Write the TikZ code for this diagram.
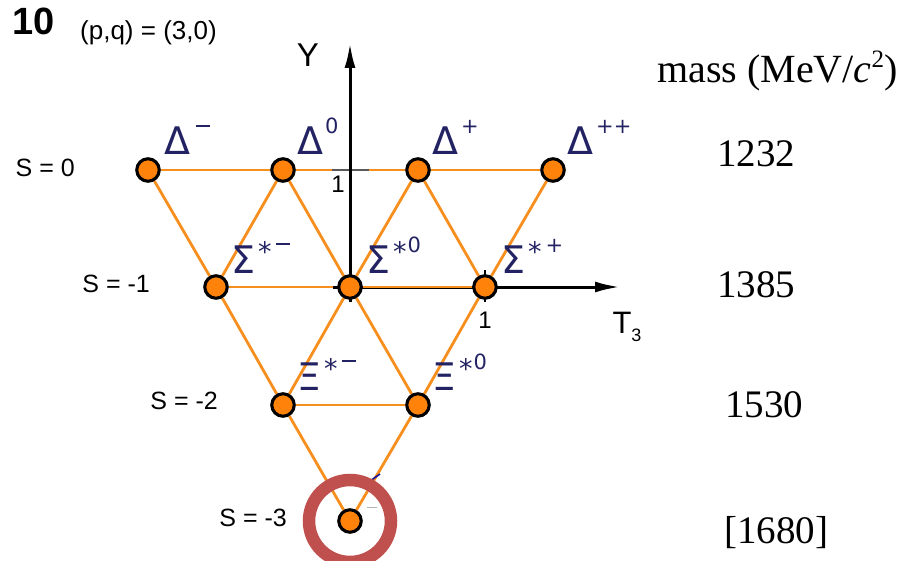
\documentclass[tikz,border=0pt]{standalone}
\usepackage{fontspec}
\newfontfamily\hv{Liberation Sans}
\newfontfamily\gk{DejaVu Sans}
\newfontfamily\tm{Liberation Serif}
\usetikzlibrary{arrows.meta,backgrounds}
\definecolor{org}{RGB}{247,143,30}
\definecolor{nodeor}{RGB}{255,130,10}
\definecolor{lab}{RGB}{35,35,100}
\definecolor{ring}{RGB}{192,80,77}
\newcommand{\ssup}[1]{\raisebox{21pt}{\fontsize{21}{23}\selectfont #1}}
\newcommand{\smin}{\rule[28pt]{14pt}{2.2pt}}
\newcommand{\sast}{\raisebox{12pt}{\fontsize{27}{29}\selectfont *}}
\begin{document}
\begin{tikzpicture}[x=1pt,y=-1pt,
  particle/.style={circle,draw=black,line width=3.1pt,fill=nodeor,minimum size=22.5pt,inner sep=0pt},
  edge/.style={draw=org,line width=2.8pt},
  axisline/.style={line width=3pt,-{Latex[length=25pt,width=11pt]}},
  glab/.style={anchor=base west,text=lab,inner sep=0pt,font=\gk\fontsize{38}{40}\selectfont},
  slab/.style={anchor=mid east,inner sep=0pt,font=\hv\fontsize{25}{28}\selectfont},
  mlab/.style={anchor=base west,inner sep=0pt,font=\tm\fontsize{39}{42}\selectfont},
  tlab/.style={inner sep=0pt,font=\hv\fontsize{24}{26}\selectfont}
]
\useasboundingbox (0,0) rectangle (912,561);
% particles
\node[particle] (dm) at (148,170) {};
\node[particle] (d0) at (283,170) {};
\node[particle] (dp) at (418,170) {};
\node[particle] (dpp) at (553,170) {};
\node[particle] (sm) at (216,287) {};
\node[particle] (s0) at (350,287) {};
\node[particle] (sp) at (485,287) {};
\node[particle] (xm) at (283,405) {};
\node[particle] (x0) at (418,405) {};
\node[particle] (om) at (350,521) {};
% axis coordinates
\coordinate (yb) at (350,302);
\coordinate (yt) at (350,43);
\coordinate (tl) at (333,287);
\coordinate (tr) at (620,287);
\coordinate (ytl) at (332,170);
\coordinate (ytr) at (369,170);
\coordinate (ttt) at (485,270);
\coordinate (ttb) at (485,302);
\begin{pgfonlayer}{background}
\draw[edge] (dm) -- (d0) -- (dp) -- (dpp);
\draw[edge] (sm) -- (s0) -- (sp);
\draw[edge] (xm) -- (x0);
\draw[edge] (dm) -- (sm) -- (xm) -- (om);
\draw[edge] (dpp) -- (sp) -- (x0) -- (om);
\draw[edge] (d0) -- (sm);
\draw[edge] (d0) -- (s0) -- (x0);
\draw[edge] (dp) -- (s0) -- (xm);
\draw[edge] (dp) -- (sp);
\draw[line width=2.8pt,draw=black!65] (ytl) -- (ytr);
\draw[line width=2.8pt] (ttt) -- (ttb);
\draw[axisline] (yb) -- (yt);
\draw[axisline] (tl) -- (tr);
\draw[draw=org,line width=1.5pt] (s0) -- (sp);
\end{pgfonlayer}
% particle labels
\node[glab] (ldm) at (164,155) {Δ\kern6pt\smin};
\node[glab] (ld0) at (297,155) {Δ\kern2pt\ssup{0}};
\node[glab] (ldp) at (432,155) {Δ\kern3pt\ssup{+}};
\node[glab] (ldpp) at (567,155) {Δ\kern3pt\ssup{++}};
\node[glab] (lsm) at (231,273) {Σ\kern3pt\sast\kern4pt\smin};
\node[glab] (ls0) at (366,273) {Σ\kern3pt\sast\kern1pt\ssup{0}};
\node[glab] (lsp) at (501,273) {Σ\kern3pt\sast\kern4pt\ssup{+}};
\node[glab] (lxm) at (297,390) {Ξ\kern3pt\sast\kern4pt\smin};
\node[glab] (lx0) at (432,390) {Ξ\kern3pt\sast\kern1pt\ssup{0}};
% fragments near Omega
\coordinate (bf1) at (370,481);
\coordinate (bf2) at (380,474);
\draw[lab!60!blue,line width=1.6pt] (bf1) -- (bf2);
\coordinate (gf1) at (367,507);
\coordinate (gf2) at (377,507);
\draw[black!30,line width=1pt] (gf1) -- (gf2);
% ring
\draw[ring,line width=12.5pt] (om) circle[radius=41pt];
% axis labels
\node[tlab,font=\hv\fontsize{33}{35}\selectfont] (ylab) at (308,55) {Y};
\node[tlab,font=\hv\fontsize{31}{33}\selectfont] (tlab3) at (627,327) {T\raisebox{-8pt}{\fontsize{18}{20}\selectfont 3}};
\node[tlab] (one1) at (338,184) {1};
\node[tlab] (one2) at (485,320) {1};
% strangeness
\node[slab] (s0l) at (75,174) {S = 0};
\node[slab] (s1l) at (150,290) {S = -1};
\node[slab] (s2l) at (218,407) {S = -2};
\node[slab] (s3l) at (287,524) {S = -3};
% masses
\node[mlab,font=\tm\fontsize{40}{42}\selectfont] (mh) at (657,83) {mass (MeV/{\itshape c}\raisebox{15pt}{\fontsize{25}{27}\selectfont 2})};
\node[mlab] (m1) at (717,167) {1232};
\node[mlab] (m2) at (717,297) {1385};
\node[mlab] (m3) at (725,417) {1530};
\node[mlab] (m4) at (724,543) {[1680]};
% title
\node[anchor=mid west,inner sep=0pt,font=\hv\bfseries\fontsize{38}{40}\selectfont] (ten) at (12,32) {10};
\node[anchor=mid west,inner sep=0pt,font=\hv\fontsize{26}{28}\selectfont] (pq) at (80,37) {(p,q) = (3,0)};
\end{tikzpicture}
\end{document}
